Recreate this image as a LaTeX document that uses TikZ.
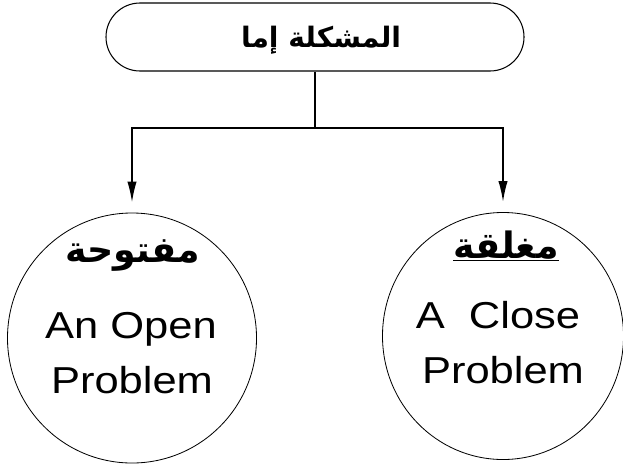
\documentclass[tikz,border=0pt]{standalone}
\usepackage{fontspec}
\setmainfont{Liberation Sans}
\newfontfamily\arabicfont[Script=Arabic]{DejaVu Sans}
\newfontfamily\widefont[FakeStretch=1.16]{Liberation Sans}
\TeXXeTstate=1
\usetikzlibrary{arrows.meta}
\usetikzlibrary{shapes.geometric}
\usetikzlibrary{calc}

\tikzset{
  topbox/.style={draw,line width=0.9pt,rounded corners=1.02cm,minimum width=12.54cm,minimum height=2.04cm},
  toptext/.style={font=\arabicfont\bfseries\fontsize{24}{28}\selectfont},
  probcircle/.style={draw,ellipse,line width=0.7pt,inner sep=0pt},
  conn/.style={line width=1.5pt},
  connarrow/.style={conn,-{Latex[length=18pt,width=8pt]}},
  entext/.style={font=\widefont\fontsize{32}{38}\selectfont,anchor=base},
  artext/.style={font=\arabicfont\bfseries\fontsize{31}{36}\selectfont}
}

\begin{document}
\begin{tikzpicture}[x=0.03cm,y=-0.03cm]
\useasboundingbox (0,0) rectangle (623,466);
% top box
\node[topbox] (problem) at (315,37) {};
\node[toptext] (problemtext) at (321,40) {\beginR المشكلة إما\endR};
\coordinate (split) at (315,128);
% the two kinds
\node[probcircle,minimum width=7.47cm,minimum height=7.5cm] (open) at (132,338) {};
\node[probcircle,minimum width=7.23cm,minimum height=7.41cm] (close) at (503,336) {};
\draw[conn] (problem.south) -- (split);
\draw[connarrow] (split) -| ($(open.north)+(0,-10)$);
\draw[connarrow] (split) -| ($(close.north)+(0,-10)$);
% texts in the circles
\node[artext] (openar) at (133,256) {\beginR مفتوحة\endR};
\node[entext] (openline1) at (131,338) {An Open};
\node[entext] (openline2) at (132,393) {Problem};
\node[artext] (closear) at (506,246) {\underline{\beginR مغلقة\endR}};
\node[entext] (closeline1) at (498,328) {A\ \ Close};
\node[entext] (closeline2) at (503,383) {Problem};
\end{tikzpicture}
\end{document}
